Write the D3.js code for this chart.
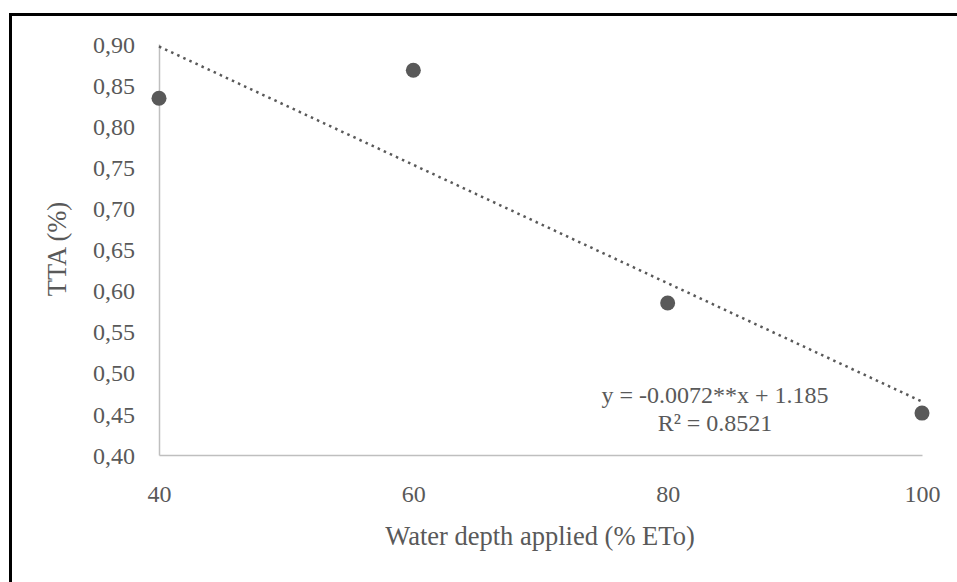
<!DOCTYPE html>
<html>
<head>
<meta charset="utf-8">
<script src="https://cdn.jsdelivr.net/npm/d3@7"></script>
<style>
  body { margin: 0; background: #fff; }
  svg text { font-family: "Liberation Serif", "Times New Roman", serif; fill: #595959; }
</style>
</head>
<body>
<div class="chart"></div>
<script>
// data
var depths = [40, 60, 80, 100];
var tta = [0.834, 0.868, 0.585, 0.451];
var trendSlope = -0.0072;
var trendIntercept = 1.185;
var xTicks = [40, 60, 80, 100];
var yTicks = [0.40, 0.45, 0.50, 0.55, 0.60, 0.65, 0.70, 0.75, 0.80, 0.85, 0.90];
var eqLines = ["y = -0.0072**x + 1.185", "R\u00B2 = 0.8521"];

var svgwidth = 957, svgheight = 582;
var margin = {top: 44, right: 35, bottom: 127, left: 159};
var mywidth = svgwidth - margin.left - margin.right;
var myheight = svgheight - margin.top - margin.bottom;

var svg = d3.select('.chart')
    .append("svg")
    .attr("width", svgwidth)
    .attr("height", svgheight);

// outer frame (cut off on the right and bottom)
svg.append("path")
    .attr("d", "M10.5," + (svgheight + 5) + "V14.5H" + (svgwidth + 5))
    .attr("fill", "none")
    .attr("stroke", "#000")
    .attr("stroke-width", 3);

var g = svg.append("g")
    .attr("transform", "translate(" + margin.left + "," + margin.top + ")");

var posX = d3.scaleLinear().domain([40, 100]).range([0, mywidth]);
var posY = d3.scaleLinear().domain([0.40, 0.90]).range([myheight, 0]);

// axes
var xAxis = g.append("g")
    .attr("transform", "translate(0," + myheight + ")")
    .call(d3.axisBottom(posX).tickValues(xTicks).tickSize(0).tickPadding(0));
xAxis.select(".domain").attr("stroke", "#bfbfbf").attr("stroke-width", 1.5);
xAxis.selectAll("text")
    .attr("font-size", "24px")
    .attr("fill", "#595959")
    .attr("dy", null)
    .attr("y", 47);

var yAxis = g.append("g")
    .call(d3.axisLeft(posY).tickValues(yTicks).tickSize(0).tickPadding(0)
        .tickFormat(function(d) { return d3.format(".2f")(d).replace(".", ","); }));
yAxis.select(".domain").attr("stroke", "#bfbfbf").attr("stroke-width", 1.5);
yAxis.selectAll("text")
    .attr("font-size", "24px")
    .attr("fill", "#595959")
    .attr("x", -24)
    .attr("dy", "0.34em");

// trendline
var trend = d3.line()
    .x(function(d) { return posX(d); })
    .y(function(d) { return posY(trendSlope * d + trendIntercept); });
g.append("path")
    .datum(d3.extent(depths))
    .attr("d", trend)
    .attr("fill", "none")
    .attr("stroke", "#595959")
    .attr("stroke-width", 2.5)
    .attr("stroke-dasharray", "2.5,4.2");

// points
g.selectAll(".markers")
    .data(depths)
    .enter()
    .append("circle")
        .attr("class", "markers")
        .attr("cx", function(d) { return posX(d); })
        .attr("cy", function(d, i) { return posY(tta[i]); })
        .attr("r", 7.5)
        .attr("fill", "#595959");

// equation label
g.selectAll(".eq")
    .data(eqLines)
    .enter()
    .append("text")
        .attr("class", "eq")
        .attr("x", 715 - margin.left)
        .attr("y", function(d, i) { return 403 - margin.top + i * 28; })
        .attr("text-anchor", "middle")
        .attr("font-size", "24px")
        .text(function(d) { return d; });

// axis titles
svg.append("text")
    .attr("x", 540)
    .attr("y", 545)
    .attr("text-anchor", "middle")
    .attr("font-size", "26.5px")
    .text("Water depth applied (% ETo)");

svg.append("text")
    .attr("transform", "translate(66,249) rotate(-90)")
    .attr("text-anchor", "middle")
    .attr("font-size", "26.5px")
    .text("TTA (%)");
</script>
</body>
</html>
